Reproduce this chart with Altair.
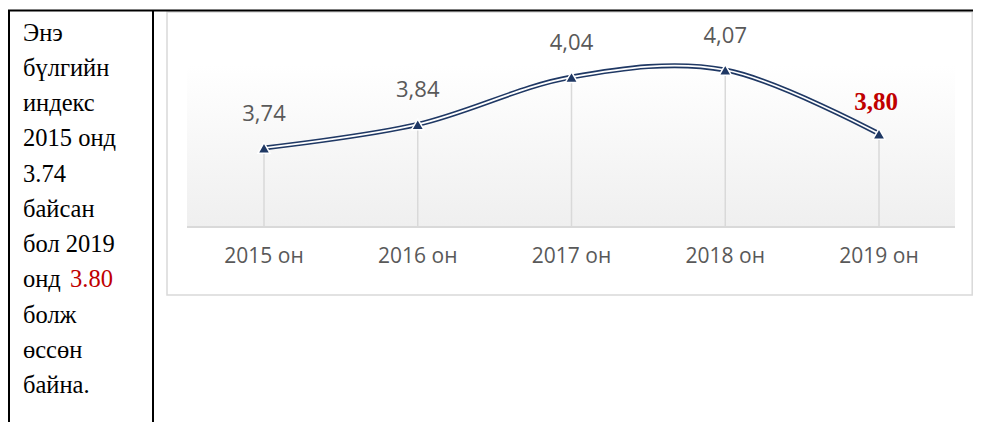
import altair as alt
import pandas as pd

# ---- data ----
years = ["2015 он", "2016 он", "2017 он", "2018 он", "2019 он"]
values = [3.74, 3.84, 4.04, 4.07, 3.80]
value_labels = ["3,74", "3,84", "4,04", "4,07", "3,80"]
highlight = [False, False, False, False, True]

text_lines = ["Энэ", "бүлгийн", "индекс", "2015 онд", "3.74", "байсан",
              "бол 2019", "онд", "болж", "өссөн", "байна."]
red_text = "3.80"
red_line_index = 7

NAVY = "#1f3864"
GRID = "#d9d9d9"
LABEL = "#595959"
RED = "#c00000"
SERIF = "Liberation Serif, Times New Roman, serif"

W, H = 965, 414

df = pd.DataFrame({"year": years, "value": values, "label": value_labels, "hl": highlight})
lines_df = pd.DataFrame({"i": list(range(len(text_lines))), "t": text_lines})
red_df = pd.DataFrame({"i": [red_line_index], "t": [red_text]})

xs = alt.Scale(type="point", domain=years, range=[256, 871], padding=0)
ys = alt.Scale(domain=[3.4, 4.1], range=[220.4, 54.9], nice=False, zero=False)
X = alt.X("year:N", scale=xs, axis=None)
Y = alt.Y("value:Q", scale=ys, axis=None)

one = alt.Data(values=[{}])

def rule(x, x2, y, y2, color="black", w=2):
    return alt.Chart(one).mark_rule(color=color, strokeWidth=w).encode(
        x=alt.value(x), x2=alt.value(x2), y=alt.value(y), y2=alt.value(y2))

# table frame
top_line = rule(0, 965, 2.5, 2.5)
left_line = rule(1, 1, 2, H)
mid_line = rule(145, 145, 2, H)

# chart box
box = alt.Chart(one).mark_rect(fill="white", stroke=GRID, strokeWidth=1.5).encode(
    x=alt.value(159), x2=alt.value(964.2), y=alt.value(4), y2=alt.value(287))

plot_bg = alt.Chart(one).mark_rect(
    fill=alt.Gradient(gradient="linear",
                      stops=[alt.GradientStop(color="#ffffff", offset=0),
                             alt.GradientStop(color="#efefef", offset=1)],
                      x1=0, x2=0, y1=0, y2=1)
).encode(x=alt.value(179), x2=alt.value(947), y=alt.value(57), y2=alt.value(219))

axis_line = rule(179, 947, 219, 219, color=GRID, w=2)

base = alt.Chart(df)
drops = base.mark_rule(color=GRID, strokeWidth=1.5).encode(x=X, y=Y, y2=alt.value(219))
line_outer = base.mark_line(interpolate="cardinal", color=NAVY, strokeWidth=5).encode(x=X, y=Y)
line_inner = base.mark_line(interpolate="cardinal", color="white", strokeWidth=1.7).encode(x=X, y=Y)
points = base.mark_point(shape="triangle-up", filled=True, size=150, fill=NAVY, stroke="white",
                         strokeWidth=1.5, opacity=1).encode(x=X, y=Y)

labels = base.transform_filter("!datum.hl").mark_text(
    font="Open Sans", fontSize=22, color=LABEL, baseline="middle", dy=-34
).encode(x=X, y=Y, text="label:N")

labels_hl = base.transform_filter("datum.hl").mark_text(
    font=SERIF, fontSize=25, fontWeight="bold", color=RED, baseline="middle",
    dy=-32, dx=-3
).encode(x=X, y=Y, text="label:N")

xlabels = base.mark_text(font="Open Sans", fontSize=21, color=LABEL, baseline="middle").encode(
    x=X, y=alt.value(249), text="year:N")

ly = alt.Y("i:Q", scale=alt.Scale(domain=[0, 10], range=[32.5, 385], nice=False, zero=False), axis=None)
left_text = alt.Chart(lines_df).mark_text(
    font=SERIF, fontSize=24.5, color="black", align="left", baseline="alphabetic"
).encode(x=alt.value(15), y=ly, text="t:N")
left_red = alt.Chart(red_df).mark_text(
    font=SERIF, fontSize=24.5, color=RED, align="left", baseline="alphabetic"
).encode(x=alt.value(62), y=ly, text="t:N")

chart = alt.layer(
    box, plot_bg, axis_line, drops, line_outer, line_inner, points, labels, labels_hl, xlabels,
    top_line, left_line, mid_line, left_text, left_red
).resolve_scale(y="independent").properties(
    width=W, height=H, padding=0, autosize=alt.AutoSizeParams(type="none")
).configure_view(stroke=None)

chart.save("out.html", embed_options={"renderer": "svg", "actions": False})
